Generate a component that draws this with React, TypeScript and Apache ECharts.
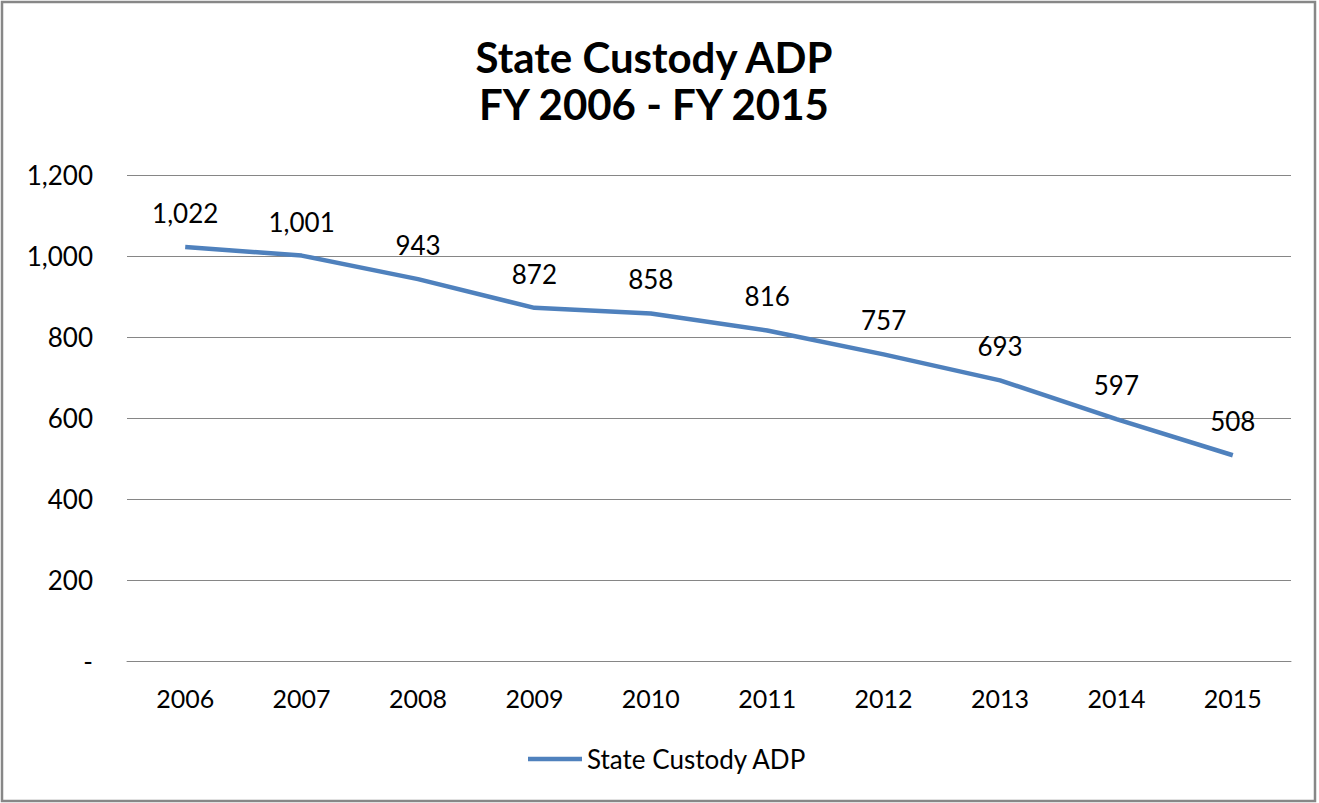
import React, { useEffect, useRef } from "react";
import * as echarts from "echarts";

const categories = ["2006", "2007", "2008", "2009", "2010", "2011", "2012", "2013", "2014", "2015"];
const adpValues = [1022, 1001, 943, 872, 858, 816, 757, 693, 597, 508];
const seriesName = "State Custody ADP";
const titleLines = ["State Custody ADP", "FY 2006 - FY 2015"];

const FONT = "Lato, 'Open Sans', sans-serif";

function fmt(v: number): string {
  if (v === 0) return "-";
  return v.toLocaleString("en-US");
}

export default function App() {
  const ref = useRef<HTMLDivElement>(null);
  useEffect(() => {
    if (!ref.current) return;
    const chart = echarts.init(ref.current, null, { renderer: "svg" });
    chart.setOption({
      animation: false,
      backgroundColor: "#ffffff",
      textStyle: { fontFamily: FONT },
      graphic: [
        {
          type: "rect",
          shape: { x: 2, y: 2, width: 1313, height: 799 },
          style: { fill: "none", stroke: "#878787", lineWidth: 2.5 },
          silent: true,
        },
        {
          type: "text",
          x: 654,
          y: 80,
          style: {
            text: titleLines.join("\n"),
            fontFamily: FONT,
            fontWeight: "bold",
            fontSize: 42,
            lineHeight: 47,
            fill: "#000000",
            align: "center",
            verticalAlign: "middle",
          },
        },
      ],
      grid: { left: 127, right: 28, top: 175, bottom: 142, containLabel: false },
      legend: {
        show: true,
        data: [{ name: seriesName, icon: "rect" }],
        bottom: 26,
        left: 523,
        itemWidth: 54,
        itemHeight: 4.5,
        itemGap: 10,
        textStyle: { fontFamily: FONT, fontSize: 26, color: "#000000", padding: [0, 0, 0, 0] },
      },
      xAxis: {
        type: "category",
        data: categories,
        boundaryGap: true,
        axisLine: { show: true, lineStyle: { color: "#868686", width: 1 } },
        axisTick: { show: false },
        axisLabel: { fontFamily: FONT, fontSize: 25, color: "#000000", margin: 24 },
      },
      yAxis: {
        type: "value",
        min: 0,
        max: 1200,
        interval: 200,
        axisLine: { show: false },
        axisTick: { show: false },
        splitLine: { show: true, lineStyle: { color: "#868686", width: 1 } },
        axisLabel: {
          fontFamily: FONT,
          fontSize: 26,
          color: "#000000",
          margin: 34,
          formatter: (v: number) => fmt(v),
        },
      },
      series: [
        {
          name: seriesName,
          type: "line",
          data: adpValues,
          symbol: "circle",
          symbolSize: 0.1,
          showSymbol: true,
          lineStyle: { color: "#4F81BD", width: 4.5 },
          itemStyle: { color: "#4F81BD" },
          label: {
            show: true,
            position: "top",
            distance: 21,
            fontFamily: FONT,
            fontSize: 26,
            color: "#000000",
            formatter: (p: any) => fmt(p.value),
          },
        },
      ],
    });
    return () => chart.dispose();
  }, []);
  return (
    <div
      ref={ref}
      style={{ position: "fixed", left: 0, top: 0, width: 1319, height: 803 }}
    />
  );
}
